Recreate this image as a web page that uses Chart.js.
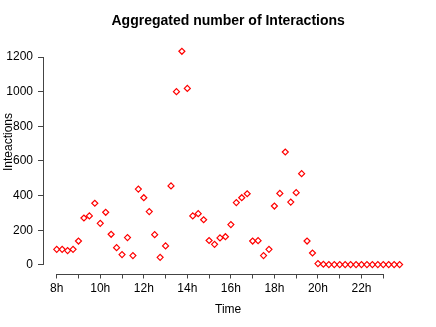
<!DOCTYPE html>
<html lang="en">
<head>
<meta charset="UTF-8">
<title>Aggregated number of Interactions</title>
<script src="https://cdn.jsdelivr.net/npm/chart.js"></script>
<style>
  html, body { margin: 0; padding: 0; background: #fff; }
</style>
</head>
<body>
<canvas id="chart" width="436" height="327"></canvas>
<script>
// 15 minute buckets
const times = [
    '8:00','8:15','8:30','8:45','9:00','9:15','9:30','9:45',
    '10:00','10:15','10:30','10:45','11:00','11:15','11:30','11:45',
    '12:00','12:15','12:30','12:45','13:00','13:15','13:30','13:45',
    '14:00','14:15','14:30','14:45','15:00','15:15','15:30','15:45',
    '16:00','16:15','16:30','16:45','17:00','17:15','17:30','17:45',
    '18:00','18:15','18:30','18:45','19:00','19:15','19:30','19:45',
    '20:00','20:15','20:30','20:45','21:00','21:15','21:30','21:45',
    '22:00','22:15','22:30','22:45','23:00','23:15','23:30','23:45'
];
const interactions = [
    90, 90, 83, 90, 138, 271, 283, 356,
    240, 304, 177, 100, 60, 158, 54, 438,
    388, 308, 175, 44, 110, 456, 1000, 1233,
    1019, 283, 296, 261, 141, 119, 156, 163,
    233, 360, 388, 411, 138, 140, 54, 90,
    340, 413, 652, 363, 417, 527, 138, 69,
    8, 4, 2, 2, 2, 2, 2, 2,
    2, 2, 2, 2, 2, 2, 2, 2
];
const xTicks = [8, 9, 10, 11, 12, 13, 14, 15, 16, 17, 18, 19, 20, 21, 22, 23];
const xTickLabels = ['8h', '', '10h', '', '12h', '', '14h', '', '16h', '', '18h', '', '20h', '', '22h', ''];
const yTicks = [0, 200, 400, 600, 800, 1000, 1200];

function toHours(t) {
    const [h, m] = t.split(':');
    return Number(h) + Number(m) / 60;
}

const font = { family: '"Liberation Sans", Arial, sans-serif', size: 12 };

// R style axes: line only between first and last tick, plus the y label
const axisLines = {
    id: 'axisLines',
    afterDraw(chart) {
        const { ctx, chartArea, scales: { x, y } } = chart;
        ctx.save();
        ctx.strokeStyle = '#444';
        ctx.lineWidth = 1;
        ctx.beginPath();
        const yb = Math.round(chartArea.bottom) + 0.5;
        ctx.moveTo(x.getPixelForValue(xTicks[0]), yb);
        ctx.lineTo(x.getPixelForValue(xTicks[xTicks.length - 1]), yb);
        const xl = Math.round(chartArea.left) + 0.5;
        ctx.moveTo(xl, y.getPixelForValue(yTicks[0]));
        ctx.lineTo(xl, y.getPixelForValue(yTicks[yTicks.length - 1]));
        ctx.stroke();

        ctx.fillStyle = '#000';
        ctx.font = '12px "Liberation Sans", Arial, sans-serif';
        ctx.textAlign = 'center';
        ctx.textBaseline = 'middle';
        ctx.translate(9, 142);
        ctx.rotate(-Math.PI / 2);
        ctx.fillText('Inteactions', 0, 0);
        ctx.restore();
    }
};

const ctx = document.getElementById('chart').getContext('2d');
new Chart(ctx, {
    type: 'scatter',
    data: {
        datasets: [{
            data: times.map((t, i) => ({ x: toHours(t), y: interactions[i] })),
            pointStyle: 'rectRot',
            radius: 3,
            borderColor: '#ff0000',
            backgroundColor: 'rgba(0,0,0,0)',
            borderWidth: 1.2
        }]
    },
    options: {
        responsive: false,
        animation: false,
        layout: { padding: { left: 0, right: 22.7, top: 0, bottom: 0 } },
        plugins: {
            legend: { display: false },
            tooltip: { enabled: false },
            title: {
                display: true,
                fullSize: false,
                text: 'Aggregated number of Interactions',
                color: '#000',
                font: { family: font.family, size: 14, weight: 'bold' },
                padding: { top: 12.6, bottom: 13.3 }
            }
        },
        scales: {
            x: {
                type: 'linear',
                min: 7.37,
                max: 24.38,
                afterBuildTicks: s => { s.ticks = xTicks.map(v => ({ value: v })); },
                afterFit: s => { s.height = 53.5; },
                ticks: {
                    callback: (v, i) => xTickLabels[i],
                    color: '#000',
                    font: font,
                    padding: 3,
                    maxRotation: 0,
                    autoSkip: false
                },
                grid: { drawOnChartArea: false, tickLength: 5, color: '#444' },
                border: { display: false },
                title: { display: true, text: 'Time', color: '#000', font: font, padding: { top: 0, bottom: 10 } }
            },
            y: {
                min: -49.3,
                max: 1282.6,
                afterBuildTicks: s => { s.ticks = yTicks.map(v => ({ value: v })); },
                afterFit: s => { s.width = 43; },
                ticks: { callback: v => String(v), color: '#000', font: font, padding: 5 },
                grid: { drawOnChartArea: false, tickLength: 5, color: '#444' },
                border: { display: false }
            }
        }
    },
    plugins: [axisLines]
});
</script>
</body>
</html>
